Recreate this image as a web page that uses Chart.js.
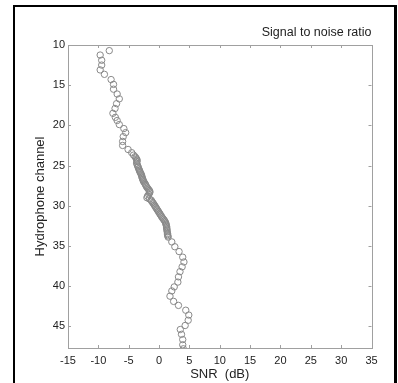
<!DOCTYPE html>
<html>
<head>
<meta charset="utf-8">
<script src="https://cdn.jsdelivr.net/npm/chart.js@4/dist/chart.umd.min.js"></script>
<style>
  html, body { margin: 0; padding: 0; background: #ffffff; }
  #wrap { width: 398px; height: 383px; position: relative; }
</style>
</head>
<body>
<div id="wrap"><canvas id="c" width="398" height="383"></canvas></div>
<script>
// Hydrophone channel (y) and SNR in dB (x)
const channel = [
  10.7, 11.25, 11.9, 12.5, 13.1, 13.65, 14.3, 14.9, 15.5, 16.1,
  16.7, 17.3, 17.9, 18.5, 19.0, 19.4, 19.9, 20.4, 20.9, 21.4,
  22.0, 22.5, 23.0, 23.4, 23.7, 23.9, 24.05, 24.2, 24.35, 24.5,
  24.7, 24.9, 25.05, 25.2, 25.4, 25.55, 25.7, 25.85, 26.0, 26.15,
  26.3, 26.45, 26.6, 26.75, 26.9, 27.05, 27.2, 27.35, 27.5, 27.65,
  27.8, 27.95, 28.1, 28.25, 28.4, 28.6, 28.8, 29.0, 29.15, 29.3,
  29.45, 29.6, 29.75, 29.9, 30.05, 30.2, 30.35, 30.5, 30.65, 30.8,
  30.95, 31.1, 31.25, 31.4, 31.55, 31.7, 31.85, 32.0, 32.15, 32.3,
  32.45, 32.6, 32.75, 32.9, 33.05, 33.25, 33.45, 33.6, 33.75, 33.9,
  34.5, 35.1, 35.7, 36.4, 37.0, 37.6, 38.2, 38.85, 39.5, 40.1,
  40.6, 41.25, 41.9, 42.4, 43.0, 43.6, 44.25, 44.9, 45.4, 46.0,
  46.65, 47.3, 47.8
];
const snr = [
  -8.2, -9.7, -9.45, -9.45, -9.7, -9.0, -7.9, -7.5, -7.5, -6.9,
  -6.55, -7.0, -7.25, -7.6, -7.2, -6.9, -6.55, -5.8, -5.5, -5.9,
  -6.0, -6.0, -5.1, -4.5, -4.2, -3.95, -3.8, -3.7, -3.6, -3.65,
  -3.7, -3.6, -3.5, -3.45, -3.35, -3.25, -3.2, -3.1, -3.0, -2.9,
  -2.85, -2.8, -2.75, -2.65, -2.6, -2.5, -2.35, -2.25, -2.15, -2.05,
  -1.9, -1.75, -1.6, -1.5, -1.55, -1.7, -1.9, -2.0, -1.6, -1.3,
  -1.2, -1.05, -0.9, -0.8, -0.65, -0.55, -0.4, -0.3, -0.15, -0.05,
  0.1, 0.2, 0.35, 0.45, 0.6, 0.75, 0.9, 1.0, 1.1, 1.15,
  1.2, 1.25, 1.25, 1.3, 1.3, 1.35, 1.4, 1.4, 1.45, 1.5,
  2.1, 2.6, 3.3, 3.9, 4.1, 3.8, 3.45, 3.2, 3.1, 2.5,
  2.1, 1.8, 2.4, 3.2, 4.4, 4.9, 4.8, 4.3, 3.5, 3.7,
  3.9, 3.9, 4.0
];
const xTicks = [-15, -10, -5, 0, 5, 10, 15, 20, 25, 30, 35];
const yTicks = [10, 15, 20, 25, 30, 35, 40, 45];
const titleText = 'Signal to noise ratio';
const xLabel = 'SNR  (dB)';
const yLabel = 'Hydrophone channel';

const FONT = '"Liberation Sans", Arial, Helvetica, sans-serif';
const points = channel.map((c, i) => ({ x: snr[i], y: c }));

const framePlugin = {
  id: 'frame',
  beforeDraw(chart) {
    const ctx = chart.ctx;
    ctx.save();
    ctx.fillStyle = '#ffffff';
    ctx.fillRect(0, 0, chart.width, chart.height);
    ctx.restore();
  },
  afterDraw(chart) {
    const ctx = chart.ctx;
    const a = chart.chartArea;
    const xs = chart.scales.x, ys = chart.scales.y;
    ctx.save();
    ctx.strokeStyle = '#a0a0a0';
    ctx.lineWidth = 1;
    ctx.strokeRect(Math.round(a.left) + 0.5, Math.round(a.top) + 0.5,
      Math.round(a.right - a.left), Math.round(a.bottom - a.top));
    const tl = 3;
    ctx.beginPath();
    xTicks.forEach(v => {
      const px = Math.round(xs.getPixelForValue(v)) + 0.5;
      ctx.moveTo(px, a.bottom); ctx.lineTo(px, a.bottom - tl);
      ctx.moveTo(px, a.top); ctx.lineTo(px, a.top + tl);
    });
    yTicks.forEach(v => {
      const py = Math.round(ys.getPixelForValue(v)) + 0.5;
      ctx.moveTo(a.left, py); ctx.lineTo(a.left + tl, py);
      ctx.moveTo(a.right, py); ctx.lineTo(a.right - tl, py);
    });
    ctx.stroke();
    ctx.fillStyle = '#000000';
    ctx.fillRect(13, 5, 2, chart.height - 5);
    ctx.fillRect(13, 5, 384, 2);
    ctx.fillRect(394, 5, 3, chart.height - 5);
    ctx.restore();
  }
};

new Chart(document.getElementById('c'), {
  type: 'scatter',
  data: {
    datasets: [{
      data: points,
      showLine: false,
      pointStyle: 'circle',
      pointRadius: 3.2,
      pointBorderWidth: 1,
      pointBorderColor: '#8a8a8a',
      pointBackgroundColor: 'rgba(255,255,255,0)',
      pointHoverRadius: 3.2
    }]
  },
  options: {
    responsive: false,
    animation: false,
    devicePixelRatio: 1,
    layout: { padding: { left: 13, right: 26.5, top: 20, bottom: 0 } },
    plugins: {
      legend: { display: false },
      tooltip: { enabled: false },
      title: {
        display: true,
        text: titleText,
        align: 'end',
        color: '#222222',
        font: { family: FONT, size: 12.5, weight: 'normal' },
        padding: { top: 5.5, bottom: 4.5 }
      }
    },
    scales: {
      x: {
        type: 'linear',
        min: -15, max: 35,
        afterBuildTicks(scale) { scale.ticks = xTicks.map(v => ({ value: v })); },
        afterFit(scale) { scale.height = 35; },
        grid: { display: false, drawTicks: false },
        border: { display: false },
        ticks: {
          color: '#222222', padding: 6.4, maxRotation: 0,
          font: { family: FONT, size: 11 }
        },
        title: {
          display: true, text: xLabel, color: '#222222',
          font: { family: FONT, size: 13 },
          padding: { top: 0, bottom: 1.2 }
        }
      },
      y: {
        type: 'linear',
        reverse: true,
        min: 10, max: 47.7,
        afterBuildTicks(scale) { scale.ticks = yTicks.map(v => ({ value: v })); },
        afterFit(scale) { scale.width = 55; },
        grid: { display: false, drawTicks: false },
        border: { display: false },
        ticks: {
          color: '#222222', padding: 3,
          font: { family: FONT, size: 11 }
        },
        title: {
          display: true, text: yLabel, color: '#222222',
          font: { family: FONT, size: 13 },
          padding: { top: 19.2, bottom: 0 }
        }
      }
    }
  },
  plugins: [framePlugin]
});
</script>
</body>
</html>
